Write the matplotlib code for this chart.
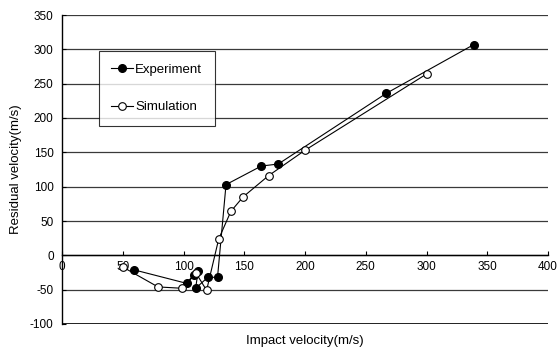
import matplotlib
matplotlib.use('Agg')
import matplotlib.pyplot as plt

plt.rcParams['font.family'] = ['Liberation Sans', 'DejaVu Sans']
plt.rcParams['axes.unicode_minus'] = False

# Experiment (filled markers)
exp_x = [59, 103, 109, 112, 110, 120, 128, 135, 164, 178, 267, 339]
exp_y = [-21, -41, -28, -23, -48, -32, -32, 103, 130, 133, 236, 307]

# Simulation (open markers)
sim_x = [50, 79, 99, 110, 119, 129, 139, 149, 170, 200, 300]
sim_y = [-17, -46, -48, -25, -51, 24, 64, 85, 116, 153, 264]

xticks = [0, 50, 100, 150, 200, 250, 300, 350, 400]
yticks = [-100, -50, 0, 50, 100, 150, 200, 250, 300, 350]

fig = plt.figure(figsize=(5.57, 3.49), dpi=100)
ax = fig.add_axes([62 / 557, 25 / 349, 486 / 557, 309 / 349])

ax.plot(exp_x, exp_y, '-o', color='black', lw=0.8, ms=5.5,
        mfc='black', mec='black', label='Experiment', zorder=3)
ax.plot(sim_x, sim_y, '-o', color='black', lw=0.8, ms=5.5,
        mfc='white', mec='black', mew=0.8, label='Simulation', zorder=3)

ax.set_xlim(0, 400)
ax.set_ylim(-100, 350)
ax.set_xticks(xticks)
ax.set_yticks(yticks)

# gridlines like the spreadsheet chart
for yv in yticks:
    ax.axhline(yv, color='#3a3a3a', lw=0.9, zorder=1)
ax.axhline(-100, color='black', lw=1.2, zorder=1)

ax.spines['top'].set_visible(False)
ax.spines['right'].set_visible(False)
ax.spines['bottom'].set_position(('data', 0))
ax.spines['bottom'].set_linewidth(1.0)
ax.spines['left'].set_linewidth(1.0)

ax.tick_params(axis='x', direction='in', length=3, labelsize=8.5, pad=4)
ax.tick_params(axis='y', direction='in', length=3, labelsize=8.5, pad=6)

ax.set_xlabel('Impact velocity(m/s)', fontsize=9.5)
ax.xaxis.set_label_coords(0.5, -0.035)
ax.set_ylabel('Residual velocity(m/s)', fontsize=9.5, labelpad=6)

leg = ax.legend(loc='upper left', bbox_to_anchor=(0.076, 0.883),
                borderaxespad=0, fontsize=9.5, frameon=True, fancybox=False,
                edgecolor='black', labelspacing=1.9, handlelength=1.6,
                handletextpad=0.2, borderpad=0.95)
leg.get_frame().set_linewidth(0.8)
leg.set_zorder(5)

fig.savefig('out.png', dpi=100)
